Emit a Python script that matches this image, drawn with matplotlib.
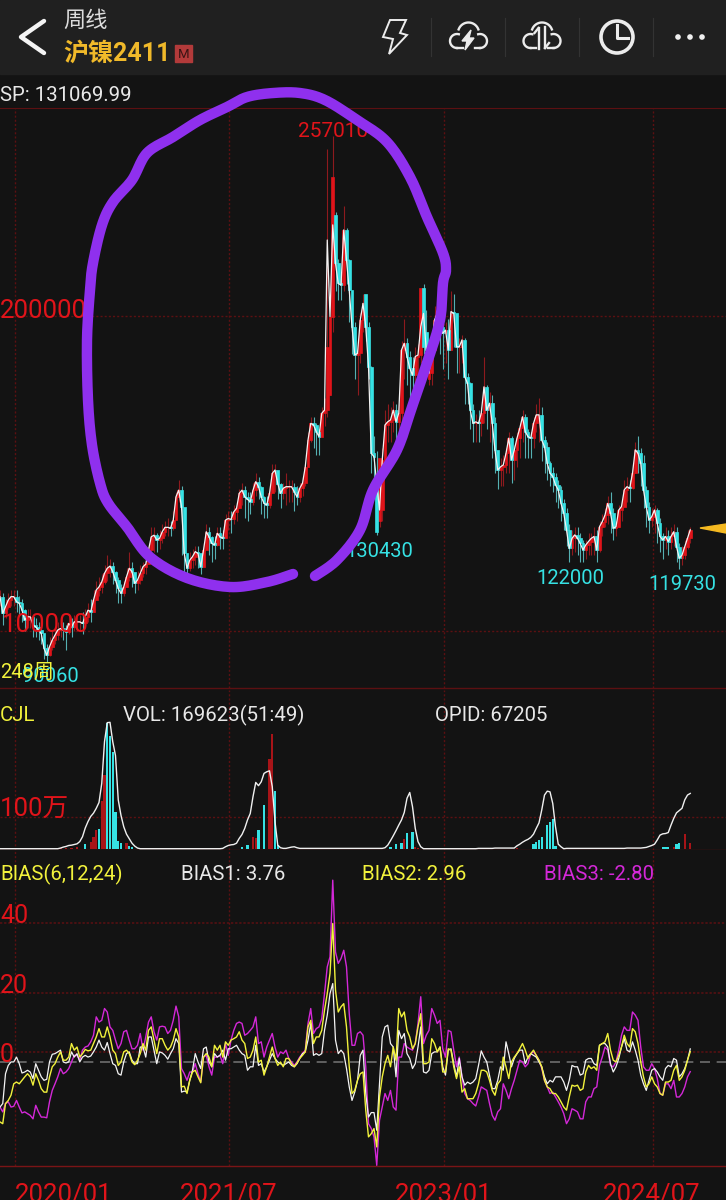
import matplotlib
matplotlib.use("Agg")
import matplotlib.pyplot as plt
import numpy as np
from matplotlib.patches import Circle, Polygon, Rectangle

plt.rcParams["font.family"] = ["Roboto", "Noto Sans CJK SC", "DejaVu Sans"]

# weekly prices, in thousand yuan
white_line = [
    110.9,105.6,107.7,109.8,110.9,110.9,109.3,108.8,106.6,103.5,
    104.5,104.5,101.9,101.3,100.3,99.2,94.5,92.3,95.0,97.1,
    98.7,100.3,100.8,100.3,99.8,102.4,101.3,102.9,102.9,102.9,
    102.4,104.5,106.6,106.1,109.8,113.0,114.0,115.6,118.3,119.9,
    120.6,118.8,116.2,113.5,111.9,114.0,117.2,119.9,118.8,115.1,
    116.2,118.3,120.4,121.2,125.7,129.9,130.4,128.9,129.4,131.5,
    132.9,132.9,132.6,135.2,142.6,144.7,139.4,124.6,119.9,122.5,
    123.6,125.2,124.6,120.4,125.7,131.5,129.9,127.8,127.3,131.0,
    129.9,129.4,135.2,135.7,135.4,137.8,138.9,143.7,144.7,142.6,
    141.8,141.0,144.7,147.4,145.8,142.6,140.5,140.0,143.7,150.0,
    151.1,146.8,143.7,145.3,145.8,145.8,145.8,144.2,142.6,145.3,
    146.9,152.1,160.6,165.9,165.4,163.3,161.7,169.1,170.1,224.1,
    199.8,228.9,216.7,210.3,209.8,227.3,217.8,208.2,196.6,187.6,
    188.1,198.7,204.0,196.6,183.9,156.4,155.3,146.9,138.4,154.3,
    165.4,166.4,167.0,170.1,166.4,169.1,189.2,191.3,187.1,183.4,
    181.2,187.1,187.6,196.6,200.8,189.2,181.8,189.2,198.7,200.8,
    196.6,194.5,195.5,189.2,201.4,200.8,190.2,190.2,192.4,180.7,
    178.6,170.1,165.9,166.4,165.9,169.1,177.5,170.1,172.3,165.9,
    157.4,151.1,152.1,152.7,156.4,161.2,154.3,157.4,161.2,164.3,
    168.0,163.3,161.7,161.2,165.9,168.6,168.6,160.6,158.5,153.2,
    150.1,149.0,146.4,144.8,140.5,137.4,132.1,126.2,129.4,130.5,
    129.4,127.8,125.7,127.3,128.4,129.4,130.0,125.7,133.1,134.7,
    136.8,140.5,137.4,132.6,133.1,138.4,139.5,144.8,145.8,145.3,
    150.1,157.5,156.4,153.2,144.8,139.5,135.2,136.3,138.4,134.2,
    130.0,128.9,130.0,128.4,130.0,131.5,126.8,123.1,124.1,126.8,
    129.4,132.1,
]
opens = [
    110.0,110.9,105.6,107.7,109.8,110.9,110.9,109.3,108.8,106.6,
    103.5,104.5,104.5,101.9,101.3,100.3,99.2,94.5,92.3,95.0,
    97.1,98.7,100.3,100.8,100.3,99.8,102.4,101.3,102.9,102.9,
    102.9,102.4,104.5,106.6,106.1,109.8,113.0,114.0,115.6,118.3,
    119.9,120.6,118.8,116.2,113.5,111.9,114.0,117.2,119.9,118.8,
    115.1,116.2,118.3,120.4,121.2,125.7,129.9,130.4,128.9,129.4,
    131.5,132.9,132.9,132.6,135.2,142.6,144.7,139.4,124.6,119.9,
    122.5,123.6,125.2,124.6,120.4,125.7,131.5,129.9,127.8,127.3,
    131.0,129.9,129.4,135.2,135.7,135.4,137.8,138.9,143.7,144.7,
    142.6,141.8,141.0,144.7,147.4,145.8,142.6,140.5,140.0,143.7,
    150.0,151.1,146.8,143.7,145.3,145.8,145.8,145.8,144.2,142.6,
    145.3,146.9,152.1,160.6,165.9,165.4,163.3,161.7,169.1,170.0,
    175.0,199.8,232.0,216.7,210.3,209.8,227.3,217.8,208.2,196.6,
    187.6,188.1,198.7,207.0,196.6,183.9,156.4,146.0,135.0,138.4,
    154.3,165.4,166.4,167.0,170.1,166.4,169.1,189.2,191.3,187.1,
    183.4,181.2,187.1,187.6,209.0,195.0,180.0,181.8,189.2,198.7,
    200.8,196.6,194.5,195.5,189.2,201.4,200.8,190.2,190.2,192.4,
    180.7,178.6,170.1,165.9,166.4,165.9,169.1,177.5,170.1,172.3,
    165.9,157.4,151.1,152.1,152.7,156.4,161.2,154.3,157.4,161.2,
    164.3,168.0,163.3,161.7,161.2,165.9,168.6,168.6,160.6,158.5,
    153.2,150.1,149.0,146.4,144.8,140.5,137.4,132.1,126.2,129.4,
    130.5,129.4,127.8,125.7,127.3,128.4,129.4,130.0,125.7,133.1,
    134.7,136.8,140.5,137.4,132.6,133.1,138.4,139.5,144.8,145.8,
    145.3,150.1,157.5,156.4,153.2,144.8,139.5,135.2,136.3,138.4,
    134.2,130.0,128.9,130.0,128.4,130.0,131.5,126.8,123.1,124.1,
    126.8,129.4,
]
highs = [
    113,112,110,112,113,113,113,111,110,107,
    107,107,105,104,103,102,99,96,98,100,
    101,103,103,103,102,105,104,105,105,105,
    106,107,109,110,113,116,117,118,121,124,
    123,122,119,117,115,116,120,125,122,118,
    119,121,122,124,128,133,133,131,132,134,
    135,136,135,138,144,148,146,130,122,125,
    126,127,127,124,128,134,133,130,130,133,
    133,132,137,138,138,140,141,145,147,146,
    144,144,147,150,149,146,143,143,146,153,
    153,150,147,147,150,148,148,147,146,147,
    149,153,163,168,168,166,164,171,174,253,
    200,257,233,218,212,235,228,218,208,198,
    191,201,207,205,198,184,162,157,147,158,
    170,172,171,173,172,172,192,199,193,189,
    187,190,191,200,210,202,190,192,203,205,
    200,198,198,199,208,207,198,193,194,193,
    182,179,172,169,170,171,187,178,176,175,
    168,155,155,156,158,163,162,159,163,166,
    170,169,164,163,168,172,174,171,162,160,
    154,152,150,148,146,142,139,134,132,133,
    133,131,129,129,131,131,133,132,135,137,
    139,143,144,139,135,140,142,148,149,148,
    153,160,162,158,156,146,141,139,140,139,
    136,131,133,132,133,134,133,128,127,129,
    132,133,
]
lows = [
    108,102,104,107,108,108,106,105,103,100,
    101,101,98,98,97,96,91,90.06,92,94,
    96,97,98,97,94,99,98,100,100,100,
    99,101,103,103,106,110,111,112,115,116,
    117,115,112,109,109,111,114,116,114,112,
    113,115,117,118,122,123,125,125,126,128,
    130,130,130,132,138,141,124,118,117,119,
    120,121,120,118,122,127,124,122,123,127,
    126,126,131,132,131,134,135,139,140,136,
    135,137,140,143,142,137,136,136,139,145,
    144,142,139,142,140,141,141,138,140,141,
    143,146,155,160,158,156,156,163,165,168,
    175,195,208,205,205,208,210,198,188,180,
    175,185,195,192,180,150,147,130.43,133,135,
    150,160,160,163,155,158,165,180,178,172,
    175,178,182,185,188,182,178,178,190,192,
    188,183,185,180,190,190,182,182,185,172,
    172,164,160,160,160,162,166,164,160,155,
    150,145,146,146,150,150,147,148,152,155,
    160,155,155,155,158,163,160,154,150,148,
    146,144,141,139,135,132,127,122,124,125,
    124,122,122,123,124,124,124,122,125,130,
    133,134,131,129,130,133,135,140,141,141,
    145,150,150,146,139,133,131,133,131,128,
    125,123,126,124,126,127,122,119.73,121,123,
    126,128,
]
# candle closes that sit away from the white line
body_closes = {119: 190.0, 121: 244.0, 137: 131.5, 138: 155.0, 153: 209.0, 154: 190.0, 156: 188.0}

# volume panel, in millions
vol_line = [
    0.01,0.01,0.01,0.01,0.01,0.01,0.01,0.01,0.01,0.01,
    0.01,0.01,0.01,0.01,0.01,0.01,0.01,0.01,0.01,0.01,
    0.01,0.01,0.03,0.06,0.08,0.11,0.12,0.14,0.16,0.23,
    0.38,0.65,0.85,1.01,1.11,1.26,1.44,2.03,3.32,3.91,
    3.92,3.32,2.89,1.52,1.04,0.69,0.46,0.32,0.18,0.09,
    0.03,0.01,0.01,0.01,0.01,0.01,0.01,0.01,0.01,0.01,
    0.01,0.01,0.01,0.01,0.01,0.01,0.01,0.01,0.01,0.01,
    0.01,0.01,0.01,0.01,0.01,0.01,0.01,0.01,0.01,0.01,
    0.01,0.02,0.07,0.11,0.13,0.14,0.18,0.33,0.45,0.64,
    0.90,1.10,1.62,2.06,1.96,2.08,2.34,2.39,2.42,1.93,
    0.85,0.12,0.04,0.02,0.02,0.04,0.06,0.07,0.04,0.02,
    0.02,0.02,0.02,0.02,0.02,0.02,0.02,0.02,0.02,0.02,
    0.02,0.02,0.02,0.02,0.02,0.02,0.02,0.02,0.02,0.02,
    0.02,0.02,0.02,0.02,0.02,0.02,0.02,0.02,0.02,0.02,
    0.04,0.12,0.26,0.41,0.57,0.74,0.90,1.13,1.57,1.75,
    1.31,0.64,0.23,0.07,0.01,0.01,0.01,0.01,0.01,0.01,
    0.01,0.01,0.01,0.01,0.01,0.01,0.01,0.01,0.01,0.01,
    0.01,0.01,0.01,0.01,0.02,0.02,0.02,0.02,0.02,0.02,
    0.03,0.03,0.03,0.03,0.03,0.03,0.03,0.03,0.10,0.15,
    0.21,0.26,0.30,0.36,0.46,0.64,0.81,1.21,1.67,1.79,
    1.77,1.41,0.69,0.15,0.07,0.01,0.02,0.02,0.02,0.02,
    0.02,0.02,0.02,0.02,0.02,0.02,0.02,0.02,0.02,0.02,
    0.02,0.02,0.02,0.02,0.02,0.02,0.02,0.02,0.03,0.03,
    0.03,0.03,0.03,0.03,0.04,0.05,0.08,0.11,0.15,0.28,
    0.43,0.47,0.48,0.51,0.74,0.95,1.12,1.19,1.26,1.52,
    1.67,1.72,
]
vol_weeks = [
    22,24,26,28,31,33,34,35,36,37,38,39,40,41,42,43,44,46,47,48,
    88,90,92,93,94,96,98,99,100,101,
    142,144,146,147,148,150,151,152,
    188,194,195,196,197,199,200,201,202,
    241,242,243,245,246,247,249,251,
]
vol_values = [
    0.02,0.03,0.03,0.05,0.15,0.22,0.38,0.59,0.61,1.50,2.30,3.91,3.50,3.00,1.15,0.25,0.20,0.20,0.09,0.05,
    0.07,0.11,0.38,0.33,0.59,1.36,2.80,3.57,1.80,0.12,
    0.05,0.15,0.18,0.31,0.49,0.54,0.07,0.04,
    0.02,0.15,0.22,0.28,0.38,0.74,0.85,0.93,0.10,
    0.05,0.05,0.07,0.07,0.15,0.19,0.48,0.19,
]
vol_rising = [
    1,1,1,1,0,1,1,1,0,1,1,0,0,0,0,0,0,1,0,0,
    0,0,1,1,0,0,1,1,0,0,
    0,0,0,1,0,0,1,1,
    1,0,0,0,0,0,0,0,0,
    0,0,0,1,0,0,1,1,
]

bias1 = [
    -13.0,-12.0,-3.4,-1.0,0,0,1.4,-0.5,-3.2,-2.9,
    -2.4,-2.9,-4.8,-0.5,-2.4,-4.3,-5.3,-5.0,0,2.2,
    2.4,2.9,3.4,0,-0.3,0,2.9,1.4,2.4,0,
    1.4,1.9,1.4,1.7,2.9,4.3,6.3,4.3,3.4,5.6,
    2.4,-0.5,-1.0,-3.4,-3.8,0,2.4,2.9,0.5,-0.5,
    -0.5,4.3,4.3,1.4,7.2,7.2,3.4,-0.5,2.9,2.6,
    1.9,0.8,2.4,3.8,6.7,5.3,-8.7,-8.4,-8.7,-5.3,
    -2.4,2.4,0,-1.9,3.8,4.3,0,-1.4,2.4,1.4,
    1.9,3.4,0.5,3.8,3.8,4.3,4.8,3.4,2.4,1.9,
    -2.4,-1.4,-1.4,4.8,-1.0,-0.5,-2.9,-1.4,0.5,2.4,
    1.0,0,-0.5,-1.0,-0.5,0,-1.0,-1.4,-0.5,1.0,
    2.4,2.9,6.3,11.1,1.9,2.4,1.9,2.4,9.1,13.5,
    19.7,22.6,6.3,2.4,3.4,2.4,-1.9,-7.2,-11.1,-8.7,
    -5.3,1.9,3.4,
    -9.1,-15.9,-14.6,-14.6,-19.7,-6.3,7.2,10.1,10.6,5.3,
    4.3,-4.3,9.1,6.7,8.2,2.4,1.0,-1.9,-0.5,4.3,
    10.1,-2.9,-3.2,-2.4,2.4,2.9,2.9,4.3,-1.4,-3.8,
    3.4,3.8,-0.5,-4.3,1.0,-4.3,-6.7,-5.8,-6.3,-5.8,
    -4.8,-1.0,3.2,1.4,0,-3.8,-7.7,-7.7,-5.3,-1.4,
    -2.4,5.8,2.4,-1.4,1.0,2.4,3.4,3.4,-0.5,1.4,
    2.4,1.9,1.4,0,-1.4,-4.3,-6.3,-5.3,-5.8,-4.3,
    -4.3,-4.3,-5.8,-8.2,-5.3,-1.0,-1.4,-1.4,-3.8,-3.4,
    0.5,1.0,1.0,-0.5,-1.0,4.8,5.3,5.3,4.3,-0.5,
    -2.9,-1.4,1.0,4.3,6.7,3.4,2.9,5.8,3.4,0.5,
    -3.8,-6.3,-8.2,-5.3,-2.4,-1.9,-2.9,-4.3,-5.3,-1.9,
    -1.0,-1.4,1.0,0.5,-4.3,-3.4,-1.9,0.5,3.76,
]
bias2 = [
    -17.3,-17.8,-12.0,-11.1,-9.6,-6.3,-5.8,-6.3,-5.3,-4.3,
    -3.4,-4.3,-6.7,-3.4,-5.3,-7.7,-8.7,-8.7,-4.3,-1.4,
    -0.5,1.4,2.9,0.5,0.5,1.4,5.3,3.4,4.3,1.4,
    2.4,3.6,3.2,3.4,5.3,7.2,9.6,7.2,7.2,10.1,
    7.2,3.4,2.4,-1.0,0,2.9,3.4,2.4,0,-0.8,
    0.5,2.4,5.3,3.4,9.1,10.1,6.3,2.4,6.7,6.7,
    4.8,3.4,4.3,6.3,9.6,7.2,-7.2,-7.0,-9.1,-5.3,
    -2.9,-2.4,-4.3,-6.0,1.4,2.4,1.4,-1.4,4.8,3.4,
    4.8,1.4,5.8,4.8,6.3,6.7,7.2,8.7,6.3,5.3,
    1.0,1.4,3.4,7.2,0,0.5,-3.8,-1.4,1.4,4.3,
    1.0,-1.0,0,-1.4,1.0,1.0,-0.5,-1.4,-0.3,1.0,
    1.9,2.9,10.1,12.0,5.3,7.2,7.2,9.1,14.9,19.7,
    25.5,39.9,20.7,14.4,15.9,16.8,10.1,-1.4,-9.1,-8.2,
    -5.3,-3.4,-2.9,
    -13.9,-21.6,-20.7,-19.2,-24.5,-10.1,-4.3,-0.5,1.9,-1.4,
    4.3,0.5,15.4,13.0,14.4,9.1,7.2,3.8,5.3,10.1,
    13.9,-0.5,-0.5,0,6.7,5.3,2.9,4.3,-2.9,-2.9,
    3.8,3.4,-1.4,-4.8,-1.4,-8.7,-7.7,-10.6,-10.6,-10.6,
    -9.1,-6.3,-2.4,-2.4,-2.9,-5.3,-8.2,-9.6,-6.3,-5.3,
    1.4,-1.4,-4.8,0,1.4,2.4,3.8,5.3,3.4,1.0,
    2.4,3.4,1.9,0.5,-1.4,-5.3,-7.2,-7.7,-9.1,-9.1,
    -10.1,-11.5,-13.0,-13.9,-10.1,-6.7,-7.0,-6.7,-8.2,-7.7,
    -2.9,-1.0,-1.9,-1.4,-2.4,4.8,5.3,5.8,8.2,3.4,
    0.5,0,1.9,4.3,7.7,5.3,4.3,9.6,8.7,5.3,
    0,-4.3,-7.2,-6.3,-4.3,-6.3,-7.2,-9.1,-9.6,-5.8,
    -5.8,-5.3,-2.4,-1.0,-5.3,-4.3,-2.4,0.5,2.96,
]
bias3 = [
    -13.0,-14.4,-12.0,-11.5,-13.0,-12.8,-11.1,-13.0,-14.7,-14.4,
    -14.9,-15.4,-16.4,-12.5,-14.4,-15.9,-15.9,-16.1,-11.5,-8.2,
    -6.3,-4.3,-1.9,-3.4,-2.9,-1.9,0,1.9,1.9,0.5,
    3.4,4.3,4.6,5.8,7.7,13.0,11.5,12.0,15.4,14.4,
    10.1,9.1,6.3,3.8,5.3,8.7,9.1,6.3,3.8,3.8,
    4.8,8.2,3.4,7.2,11.5,13.0,8.7,6.3,10.1,10.3,
    10.1,8.2,9.1,12.0,16.1,13.0,-1.9,-3.4,-5.3,-2.9,
    -2.9,-0.5,-3.4,-5.8,1.4,1.9,-1.4,-3.8,1.4,1.4,
    1.9,-0.5,5.3,1.9,6.3,9.1,11.1,11.5,11.1,7.7,
    8.2,9.1,10.1,13.0,5.3,5.8,1.4,4.3,6.3,8.2,
    4.3,1.4,2.9,2.4,3.4,1.0,0,-1.0,0,1.4,
    2.4,3.4,11.1,15.4,8.2,9.6,10.1,12.5,19.7,27.4,
    30.3,52.4,31.7,28.4,29.8,32.2,27.4,13.9,4.8,4.8,
    8.2,8.7,7.7,
    -1.4,-17.8,-19.2,-21.6,-29.8,-16.8,-13.0,-9.1,-11.1,-8.2,
    -13.0,-13.9,1.4,1.4,5.3,4.3,3.8,3.4,5.3,11.1,
    18.8,5.3,7.7,9.1,15.4,13.5,11.1,12.0,3.8,1.4,
    9.1,8.7,3.4,-1.4,1.4,-4.3,-9.1,-10.6,-11.1,-12.0,
    -12.7,-10.1,-7.2,-7.7,-8.2,-12.0,-15.4,-16.8,-14.4,-13.5,
    -6.3,-8.2,-10.6,-7.7,-5.3,-2.4,0.5,0,-1.4,-0.5,
    2.4,2.9,1.9,0.5,-1.9,-5.3,-7.2,-9.1,-8.7,-10.1,
    -11.5,-13.0,-14.9,-17.8,-16.4,-13.5,-13.9,-14.4,-16.4,-16.4,
    -11.5,-10.1,-10.1,-7.7,-7.2,-1.0,1.4,4.3,3.4,-1.0,
    -1.4,0,3.4,7.7,10.1,9.1,9.1,14.4,13.5,12.0,
    4.3,-1.4,-2.4,-2.4,-0.5,-1.9,-4.8,-9.1,-9.6,-6.3,
    -6.3,-7.7,-5.3,-10.1,-10.1,-9.1,-7.2,-4.3,-2.80,
]

grid_weeks = [5.3, 83.3, 161.5, 237.5]
price_grid = [100, 200]
vol_grid = [1]
bias_grid = [40, 20, 2.9]

BG = "#131313"
BAR = "#202020"
GRID = "#5c1012"
RED = "#e0141a"
DIM_RED = "#a81418"
CYAN = "#36e2e4"
YELLOW = "#f2f23c"
MAGENTA = "#d428d8"
PURPLE = "#8f30ee"
W, H = 726, 1200


def panel(top, bottom, ylim):
    ax = fig.add_axes([0, 1 - bottom / H, 1, (bottom - top) / H])
    ax.set_facecolor(BG)
    ax.set_xlim(0, W / 2.75)
    ax.set_ylim(*ylim)
    ax.set_xticks([])
    ax.set_yticks([])
    for side in ["left", "right", "top"]:
        ax.spines[side].set_visible(False)
    ax.spines["bottom"].set_color(GRID)
    ax.spines["bottom"].set_linewidth(1)
    for wk in grid_weeks:
        ax.axvline(wk, color=GRID, lw=1, ls=(0, (1.5, 1.5)), zorder=1)
    return ax


fig = plt.figure(figsize=(W / 100, H / 100), dpi=100, facecolor=BG)

# price panel
ax1 = panel(108, 688, (81.9, 266.0))
ax1.spines["top"].set_visible(True)
ax1.spines["top"].set_color(GRID)
for lev in price_grid:
    ax1.axhline(lev, color=GRID, lw=1, ls=(0, (1.5, 1.5)), zorder=1)
weeks = np.arange(len(white_line))
closes = list(white_line)
for wk, val in body_closes.items():
    closes[wk] = val
closes = np.array(closes)
opens = np.array(opens)
up = closes >= opens
ax1.vlines(weeks[up], np.array(lows)[up], np.array(highs)[up], color="#8e1a1e", lw=0.8, zorder=2)
ax1.vlines(weeks[~up], np.array(lows)[~up], np.array(highs)[~up], color="#55b0b2", lw=0.8, zorder=2)
ax1.bar(weeks[up], (closes - opens)[up], bottom=opens[up], width=1.0, color=RED, ec=RED, lw=0.5, zorder=3)
ax1.bar(weeks[~up], (closes - opens)[~up], bottom=opens[~up], width=1.0, color=CYAN, ec=CYAN, lw=0.5, zorder=3)
ax1.plot(weeks, white_line, color="#f4f4f4", lw=0.9, zorder=4)

# volume panel
ax2 = panel(690, 850, (-0.03, 4.92))
for lev in vol_grid:
    ax2.axhline(lev, color=GRID, lw=1, ls=(0, (1.5, 1.5)), zorder=1)
vol_colors = [DIM_RED if r else CYAN for r in vol_rising]
ax2.bar(vol_weeks, vol_values, width=0.85, color=vol_colors, zorder=3)
ax2.plot(np.arange(len(vol_line)), vol_line, color="#f0f0f0", lw=1.0, zorder=4)

# bias panel
ax3 = panel(850, 1166, (-30.0, 61.1))
for lev in bias_grid:
    ax3.axhline(lev, color=GRID, lw=1.1, ls=(0, (1.5, 1.2)), zorder=1)
ax3.axhline(0, color="#6e6e6e", lw=1.2, ls=(0, (6, 4)), zorder=2)
ax3.plot(np.arange(len(bias3)), bias3, color=MAGENTA, lw=1.0, zorder=3)
ax3.plot(np.arange(len(bias1)), bias1, color="#f4f4f4", lw=0.9, zorder=4)
ax3.plot(np.arange(len(bias2)), bias2, color=YELLOW, lw=1.0, zorder=5)
ax3.spines["bottom"].set_color("#7a1416")

# overlay in picture pixels for the header, labels and the hand drawn ring
ov = fig.add_axes([0, 0, 1, 1], zorder=10)
ov.set_xlim(0, W)
ov.set_ylim(H, 0)
ov.axis("off")
ov.patch.set_alpha(0)
ov.add_patch(Rectangle((0, 0), W, 74, color=BAR, zorder=1))


def label(x, y, s, color, size, **kw):
    ov.text(x, y, s, color=color, fontsize=size, va="baseline", zorder=3, **kw)


label(63, 27, "周线", "#dcdcdc", 16)
label(63, 61, "沪镍2411", "#f0b92a", 18, fontweight="bold")
ov.add_patch(Rectangle((175, 45), 17, 17, color="#b23a3a", zorder=2))
label(183.5, 58.5, "M", "#3a1414", 9.5, ha="center")

label(0, 101, "SP: 131069.99", "#e8e8e8", 14.7)
label(0, 318, "200000", RED, 18.5)
label(2, 632, "100000", RED, 18.5)
label(298, 137, "257010", RED, 15)
label(345, 557, "130430", CYAN, 14.5)
label(536, 584, "122000", CYAN, 14.5)
label(648, 590, "119730", CYAN, 14.5)
label(22, 682, "90060", CYAN, 14.5)
label(0, 678, "248周", YELLOW, 14.5)

label(0, 721, "CJL", YELLOW, 14.7)
label(123, 721, "VOL: 169623(51:49)", "#e8e8e8", 14.7)
label(435, 721, "OPID: 67205", "#e8e8e8", 14.7)
label(0, 817, "100万", RED, 18.5)

label(0, 880, "BIAS(6,12,24)", YELLOW, 14.7)
label(181, 880, "BIAS1: 3.76", "#e8e8e8", 14.7)
label(362, 880, "BIAS2: 2.96", YELLOW, 14.7)
label(544, 880, "BIAS3: -2.80", MAGENTA, 14.7)
label(0, 923, "40", RED, 18)
label(0, 993, "20", RED, 18)
label(0, 1062, "0", RED, 18)

label(15, 1202, "2020/01", RED, 18.5)
label(180, 1202, "2021/07", RED, 18.5)
label(395, 1202, "2023/01", RED, 18.5)
label(603, 1202, "2024/07", RED, 18.5)

# last price marker
ov.add_patch(Polygon([(700, 528), (726, 524), (726, 533)], color="#f5b921", zorder=3))

# header icons
ICON = "#ececec"
ov.plot([44, 21, 44], [21, 37, 53], color="#f4f4f4", lw=3.2, solid_capstyle="round", solid_joinstyle="round", zorder=3)
for sx in [431, 505, 579, 653]:
    ov.plot([sx, sx], [18, 56], color="#333333", lw=0.8, zorder=2)
ov.add_patch(Polygon([(390, 20), (406, 20), (400, 33), (407, 35), (389, 54), (393, 39), (383, 37)],
                     closed=True, fill=False, ec=ICON, lw=1.4, zorder=3))


def cloud(cx):
    # left lobe, dome and right lobe of the cloud outline
    for dx, dy, r, a0, a1 in [(-11.5, 41, 7, 75, 270), (0, 33, 10.5, 20, 160), (11.5, 41, 7, -90, 105)]:
        t = np.radians(np.linspace(a0, a1, 30))
        ov.plot(cx + dx + r * np.cos(t), dy - r * np.sin(t), color=ICON, lw=1.7, zorder=3)
    ov.plot([cx - 11.5, cx - 6], [48, 48], color=ICON, lw=1.7, zorder=3)
    ov.plot([cx + 6, cx + 11.5], [48, 48], color=ICON, lw=1.7, zorder=3)


cloud(468.5)
ov.add_patch(Polygon([(471, 30), (462, 41), (467, 41), (465, 50), (474, 38), (469, 38)], color=ICON, zorder=3))
cloud(542)
ov.plot([538.5, 538.5], [28, 49], color=ICON, lw=1.7, zorder=3)
ov.plot([545, 545], [27, 48], color=ICON, lw=1.7, zorder=3)
ov.plot([534.5, 538.5], [33, 28], color=ICON, lw=1.7, zorder=3)
ov.plot([545, 549], [48, 43], color=ICON, lw=1.7, zorder=3)
ov.add_patch(Circle((617, 37), 16, fill=False, ec=ICON, lw=2.6, zorder=3))
ov.plot([617, 617, 628], [25, 38, 38], color=ICON, lw=2.2, zorder=3)
for dx in [678, 690, 702]:
    ov.add_patch(Circle((dx, 37), 2.1, color="#f0f0f0", zorder=3))


def smooth(xs, ys, steps=12):
    # catmull-rom through the traced points of the hand drawn stroke
    pts = np.column_stack([xs, ys]).astype(float)
    pts = np.vstack([pts[0], pts, pts[-1]])
    out = []
    for i in range(1, len(pts) - 2):
        p0, p1, p2, p3 = pts[i - 1], pts[i], pts[i + 1], pts[i + 2]
        for t in np.linspace(0, 1, steps, endpoint=False):
            out.append(0.5 * (2 * p1 + (p2 - p0) * t + (2 * p0 - 5 * p1 + 4 * p2 - p3) * t ** 2
                              + (3 * p1 - p0 - 3 * p2 + p3) * t ** 3))
    out.append(pts[-2])
    out = np.array(out)
    return out[:, 0], out[:, 1]


# purple ring, two strokes with a gap at the bottom
ring_x = [293, 267, 230, 187, 150, 127, 108, 100, 92, 88, 87, 90, 93, 102, 113, 132, 147, 173, 200, 227, 247, 273, 300, 325, 357, 387, 410, 427, 443, 446, 443, 440, 427, 412, 397, 373, 360, 337, 315]
ring_y = [574, 582, 587, 578, 557, 527, 503, 483, 445, 400, 340, 290, 263, 225, 202, 180, 153, 137, 120, 107, 97, 93, 93, 100, 120, 142, 177, 217, 253, 270, 283, 320, 363, 407, 450, 490, 530, 560, 576]
sx, sy = smooth(ring_x, ring_y)
ov.plot(sx, sy, color=PURPLE, lw=7.5, solid_capstyle="round", solid_joinstyle="round", zorder=5)

fig.savefig("out.png", dpi=100, facecolor=BG)
